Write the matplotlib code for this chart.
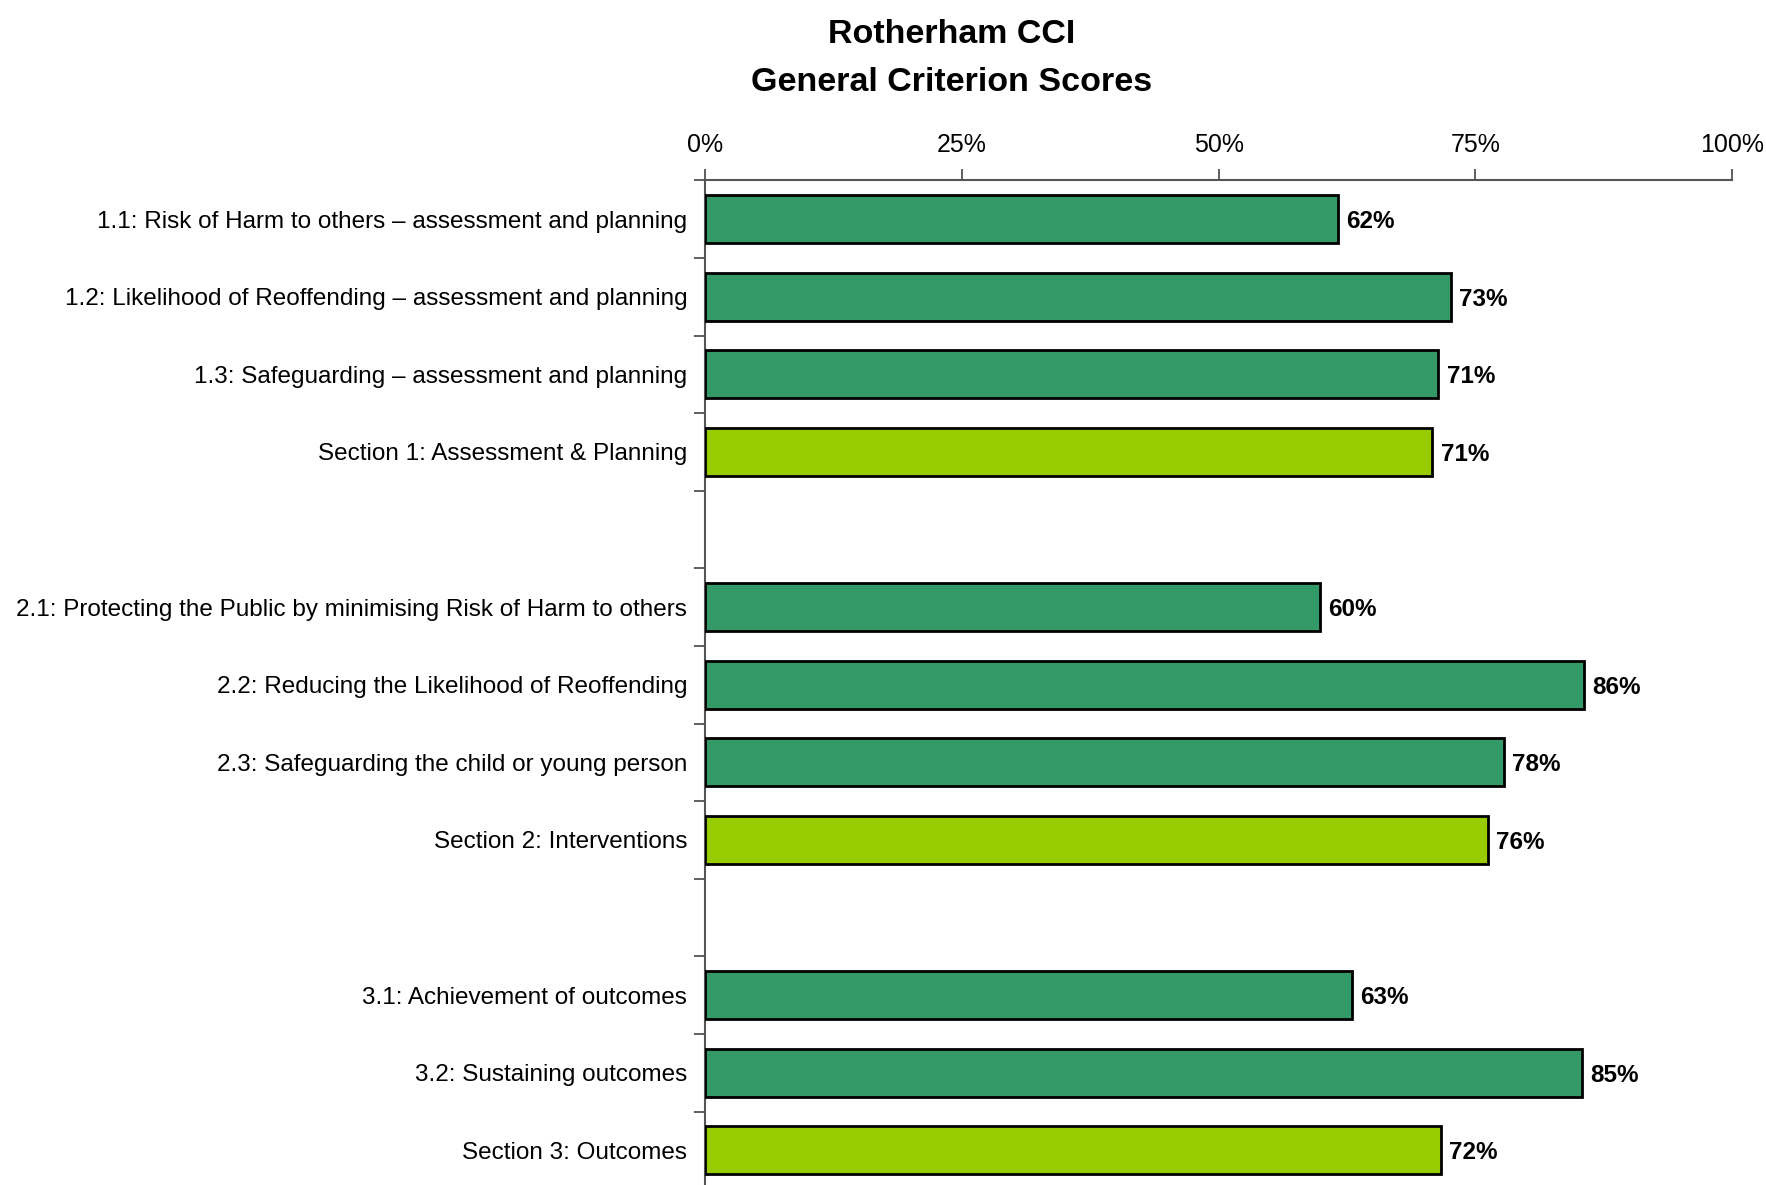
"""Rotherham CCI - general criterion scores as horizontal bars, grouped by section."""
import matplotlib
matplotlib.use("Agg")
import matplotlib.pyplot as plt
from matplotlib.ticker import FixedLocator, PercentFormatter

plt.rcParams["font.family"] = ["Liberation Sans", "DejaVu Sans"]

# one list per section: criteria first, then the section total
sec1_labels = [
    "1.1: Risk of Harm to others \u2013 assessment and planning",
    "1.2: Likelihood of Reoffending \u2013 assessment and planning",
    "1.3: Safeguarding \u2013 assessment and planning",
    "Section 1: Assessment & Planning",
]
sec1_scores = [61.6, 72.6, 71.4, 70.8]

sec2_labels = [
    "2.1: Protecting the Public by minimising Risk of Harm to others",
    "2.2: Reducing the Likelihood of Reoffending",
    "2.3: Safeguarding the child or young person",
    "Section 2: Interventions",
]
sec2_scores = [59.9, 85.6, 77.8, 76.2]

sec3_labels = [
    "3.1: Achievement of outcomes",
    "3.2: Sustaining outcomes",
    "Section 3: Outcomes",
]
sec3_scores = [63.0, 85.4, 71.6]

x_ticks = [0, 25, 50, 75, 100]

CRIT_GREEN = "#339966"
SECT_GREEN = "#99CC00"

sections = [(sec1_labels, sec1_scores), (sec2_labels, sec2_scores),
            (sec3_labels, sec3_scores)]

fig = plt.figure(figsize=(17.66, 11.85), dpi=100)
ax = fig.add_axes([0.399, -0.0035, 0.582, 0.8513])

pos = 0
ypos, labels = [], []
for names, scores in sections:
    for i, (name, val) in enumerate(zip(names, scores)):
        colour = SECT_GREEN if i == len(names) - 1 else CRIT_GREEN
        ax.barh(pos, val, height=0.62, color=colour, edgecolor="black",
                linewidth=2.0, zorder=3)
        ax.text(val + 0.8, pos, f"{val:.0f}%", va="center_baseline", ha="left",
                fontsize=17.5, fontweight="bold", zorder=4)
        ypos.append(pos)
        labels.append(name)
        pos += 1
    pos += 1  # blank slot between sections
n_slots = pos - 1

ax.set_xlim(0, 100)
ax.set_ylim(n_slots - 0.5, -0.5)

ax.xaxis.tick_top()
ax.set_xticks(x_ticks)
ax.xaxis.set_major_formatter(PercentFormatter(decimals=0))
ax.tick_params(axis="x", direction="out", length=8, width=1.2, pad=9,
               labelsize=18, color="#444444")

ax.set_yticks(ypos)
ax.set_yticklabels(labels, fontsize=17.5)
ax.tick_params(axis="y", which="major", length=0, pad=12.5)
ax.yaxis.set_minor_locator(FixedLocator([b + 0.5 for b in range(-1, n_slots)]))
ax.tick_params(axis="y", which="minor", direction="out", length=8, width=1.2,
               color="#444444")

for side in ("right", "bottom"):
    ax.spines[side].set_visible(False)
ax.spines["top"].set_color("#555555")
ax.spines["left"].set_color("#555555")
ax.spines["top"].set_linewidth(1.5)
ax.spines["left"].set_linewidth(1.5)

fig.text(0.539, 0.9637, "Rotherham CCI", ha="center", va="baseline",
         fontsize=24.5, fontweight="bold")
fig.text(0.539, 0.923, "General Criterion Scores", ha="center", va="baseline",
         fontsize=24.5, fontweight="bold")

fig.savefig("out.png", dpi=100)
